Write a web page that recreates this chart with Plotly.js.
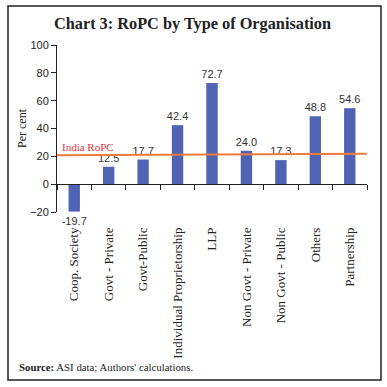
<!DOCTYPE html>
<html>
<head>
<meta charset="utf-8">
<script src="https://cdn.plot.ly/plotly-3.0.1.min.js"></script>
<style>
html,body{margin:0;padding:0;background:#fff;}
#chart{width:387px;height:387px;}
</style>
</head>
<body>
<div id="chart"></div>
<script>
const categories = ["Coop. Society","Govt - Private","Govt-Public","Individual Proprietorship","LLP","Non Govt - Private","Non Govt - Public","Others","Partnership"];
const ropcValues = [-19.7, 12.5, 17.7, 42.4, 72.7, 24.0, 17.3, 48.8, 54.6];
const ropcLabels = ["-19.7","12.5","17.7","42.4","72.7","24.0","17.3","48.8","54.6"];
const indiaRopcLine = [20.8, 21.8];
const yTicks = [-20, 0, 20, 40, 60, 80, 100];
const yRange = [-20, 100];

const n = categories.length;
const lineX = [-0.5, n - 0.5];
const boundaries = [];
for (let i = 0; i <= n; i++) boundaries.push(i - 0.5);

const serif = "Liberation Serif, DejaVu Serif, serif";
const sans = "Liberation Sans, Arial, sans-serif";

const traces = [
  {
    type: "bar",
    x: categories,
    y: ropcValues,
    text: ropcLabels,
    textposition: "outside",
    constraintext: "none",
    textfont: {family: sans, size: 11, color: "#333"},
    cliponaxis: false,
    marker: {color: "#5063b4"},
    width: 0.33,
    hoverinfo: "x+y"
  },
  {
    type: "scatter",
    mode: "lines",
    x: lineX,
    y: indiaRopcLine,
    xaxis: "x2",
    line: {color: "#f07c3c", width: 2},
    hoverinfo: "y"
  }
];

const layout = {
  width: 387,
  height: 387,
  margin: {l: 57, r: 20, t: 45, b: 175},
  paper_bgcolor: "#fff",
  plot_bgcolor: "#fff",
  showlegend: false,
  title: {
    text: "<b>Chart 3: RoPC by Type of Organisation</b>",
    font: {family: serif, size: 16.3, color: "#222"},
    x: 192.5 / 387, xanchor: "center", xref: "container",
    y: 1 - 23/387, yanchor: "middle"
  },
  xaxis: {
    type: "category",
    categoryarray: categories,
    showline: false,
    ticks: "",
    tickangle: -90,
    tickfont: {family: serif, size: 13, color: "#222"},
    showgrid: false,
    zeroline: false,
    ticklabelstandoff: 12
  },
  xaxis2: {
    overlaying: "x",
    anchor: "free",
    position: (0 - yRange[0]) / (yRange[1] - yRange[0]),
    range: [lineX[0], lineX[1]],
    tickvals: boundaries,
    ticks: "outside",
    ticklen: 5,
    tickcolor: "#222",
    showticklabels: false,
    showline: true,
    linecolor: "#222",
    linewidth: 1,
    showgrid: false,
    zeroline: false
  },
  yaxis: {
    range: yRange,
    tickvals: yTicks,
    ticks: "outside",
    ticklen: 5,
    tickcolor: "#222",
    showline: true,
    linecolor: "#222",
    showgrid: false,
    zeroline: false,
    tickfont: {family: sans, size: 11, color: "#222"},
    title: {text: "Per cent", font: {family: serif, size: 12, color: "#222"}, standoff: 0}
  },
  annotations: [
    {
      xref: "x2", yref: "y",
      x: lineX[0], y: indiaRopcLine[0],
      xanchor: "left", yanchor: "bottom",
      xshift: 3,
      text: "India RoPC",
      showarrow: false,
      font: {family: serif, size: 11, color: "#e0323f"}
    },
    {
      xref: "paper", yref: "paper",
      x: (17 - 57) / 310, y: (212 - 367) / 167,
      xanchor: "left", yanchor: "middle",
      text: "<b>Source:</b> ASI data; Authors' calculations.",
      showarrow: false,
      font: {family: serif, size: 10.8, color: "#222"}
    }
  ],
  shapes: [
    {
      type: "rect", xref: "paper", yref: "paper",
      x0: (8 - 57) / 310, x1: (381 - 57) / 310,
      y0: (212 - 380) / 167, y1: (212 - 6) / 167,
      line: {color: "#222", width: 1.5},
      fillcolor: "rgba(0,0,0,0)",
      layer: "below"
    }
  ]
};

Plotly.newPlot("chart", traces, layout, {displayModeBar: false, staticPlot: true});
</script>
</body>
</html>
